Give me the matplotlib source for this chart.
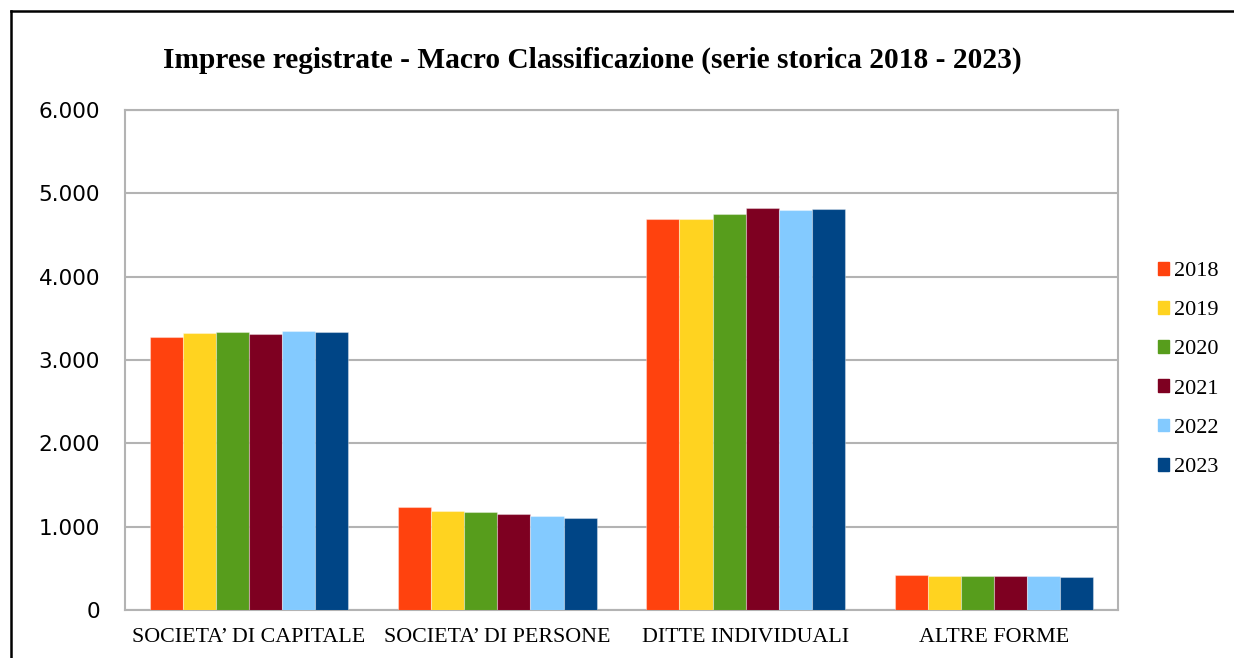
import matplotlib.pyplot as plt
import matplotlib.patches as mpatches
from matplotlib.lines import Line2D
from matplotlib.ticker import FuncFormatter
import numpy as np

categories = ["SOCIETA\u2019 DI CAPITALE", "SOCIETA\u2019 DI PERSONE", "DITTE INDIVIDUALI", "ALTRE FORME"]
years = ["2018", "2019", "2020", "2021", "2022", "2023"]

# values per year, one entry per category
v2018 = [3272, 1232, 4688, 416]
v2019 = [3324, 1188, 4688, 408]
v2020 = [3336, 1176, 4748, 408]
v2021 = [3316, 1152, 4824, 404]
v2022 = [3352, 1128, 4796, 404]
v2023 = [3340, 1100, 4812, 396]
series = [v2018, v2019, v2020, v2021, v2022, v2023]

colors = ["#ff420e", "#ffd320", "#579d1c", "#7e0021", "#83caff", "#004586"]
grid_col = "#b3b3b3"

fig = plt.figure(figsize=(12.34, 6.58), dpi=100)
ax = fig.add_axes([125 / 1234, 1 - 610 / 658, 993 / 1234, 500 / 658])

x = np.arange(len(categories))
w = 0.8 / len(years)
for i, vals in enumerate(series):
    ax.bar(x - 0.4 + w * (i + 0.5), vals, width=w, color=colors[i],
           edgecolor=(1, 1, 1, 0.35), linewidth=0.8, zorder=3)

ax.set_xlim(-0.5, len(categories) - 0.5)
ax.set_ylim(0, 6000)
ax.set_yticks(np.arange(0, 6001, 1000))
ax.yaxis.set_major_formatter(FuncFormatter(lambda v, p: f"{int(v):,}".replace(",", ".")))
ax.set_xticks(x)
ax.set_xticklabels(categories, fontfamily="Liberation Serif", fontsize=15.8)
ax.tick_params(axis="x", length=0, pad=13)
ax.tick_params(axis="y", length=0, pad=18, labelsize=15.5)
for lbl in ax.get_yticklabels():
    lbl.set_fontfamily("DejaVu Sans")
ax.grid(axis="y", color=grid_col, linewidth=1.5, zorder=0)
for s in ax.spines.values():
    s.set_color(grid_col)
    s.set_linewidth(1.5)

fig.text(592 / 1234, 1 - 60 / 658, "Imprese registrate - Macro Classificazione (serie storica 2018 - 2023)",
         ha="center", va="center", fontfamily="Liberation Serif", fontweight="bold", fontsize=21.2)

handles = [mpatches.Patch(color=c, label=y) for c, y in zip(colors, years)]
fig.legend(handles=handles, loc="center left", bbox_to_anchor=(1158 / 1234, 1 - 369.5 / 658),
           frameon=False, borderpad=0, borderaxespad=0, handlelength=0.5, handleheight=0.5,
           handletextpad=0.2, labelspacing=0.9,
           prop={"family": "Liberation Serif", "size": 16})

# outer frame (top and left edges only)
fx = 11 / 1234
fy = 1 - 11 / 658
fig.add_artist(Line2D([fx, 1], [fy, fy], color="black", linewidth=1.8, transform=fig.transFigure))
fig.add_artist(Line2D([fx, fx], [0, fy], color="black", linewidth=1.8, transform=fig.transFigure))

fig.savefig("out.png", dpi=100)
